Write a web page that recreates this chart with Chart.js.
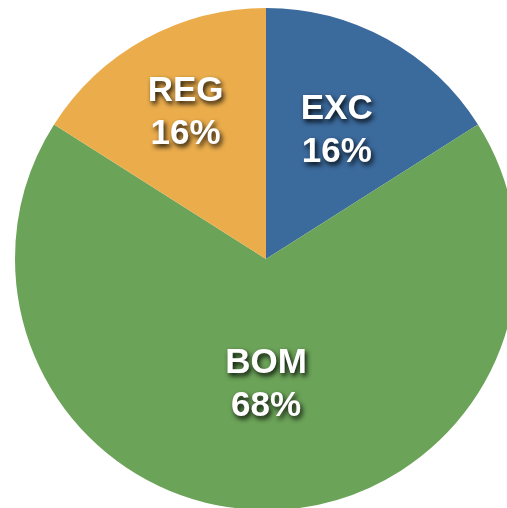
<!DOCTYPE html>
<html>
<head>
<meta charset="utf-8">
<script src="https://cdn.jsdelivr.net/npm/chart.js@4"></script>
<style>
  html, body { margin: 0; padding: 0; background: #fff; overflow: hidden; }
  #wrap { position: absolute; left: 15px; top: 8px; width: 502px; height: 502px; }
</style>
</head>
<body>
<div id="wrap"><canvas id="chart"></canvas></div>
<script>
var categories = ['EXC', 'BOM', 'REG'];
var shares = [16, 68, 16];
var sliceColors = ['#3B6A9C', '#6BA358', '#EBAD4C'];

// labels sit at a fraction of the radius along each slice's middle angle
var labelRadius = [0.585, 0.50, 0.665];

var sliceLabels = {
  id: 'sliceLabels',
  afterDatasetsDraw: function(chart) {
    var ctx = chart.ctx;
    var meta = chart.getDatasetMeta(0);
    var total = shares.reduce(function(a, b) { return a + b; }, 0);
    ctx.save();
    ctx.font = 'bold 35px "Liberation Sans", Arial, sans-serif';
    ctx.textAlign = 'center';
    ctx.textBaseline = 'middle';
    ctx.fillStyle = '#fff';
    ctx.shadowColor = 'rgba(0,0,0,0.9)';
    ctx.shadowOffsetX = 2;
    ctx.shadowOffsetY = 3;
    ctx.shadowBlur = 5;
    meta.data.forEach(function(arc, i) {
      var p = arc.getProps(['x', 'y', 'startAngle', 'endAngle', 'outerRadius'], true);
      var mid = (p.startAngle + p.endAngle) / 2;
      var r = p.outerRadius * labelRadius[i];
      var x = p.x + Math.cos(mid) * r;
      var y = p.y + Math.sin(mid) * r;
      var pct = Math.round(shares[i] / total * 100) + '%';
      ctx.fillText(categories[i], x, y - 21);
      ctx.fillText(pct, x, y + 22);
    });
    ctx.restore();
  }
};

var ctx = document.getElementById('chart').getContext('2d');
var myChart = new Chart(ctx, {
  type: 'pie',
  data: {
    labels: categories,
    datasets: [{
      data: shares,
      backgroundColor: sliceColors,
      borderWidth: 0
    }]
  },
  options: {
    responsive: true,
    maintainAspectRatio: false,
    animation: false,
    layout: { padding: 0 },
    plugins: {
      legend: { display: false },
      tooltip: { enabled: false }
    }
  },
  plugins: [sliceLabels]
});
</script>
</body>
</html>
